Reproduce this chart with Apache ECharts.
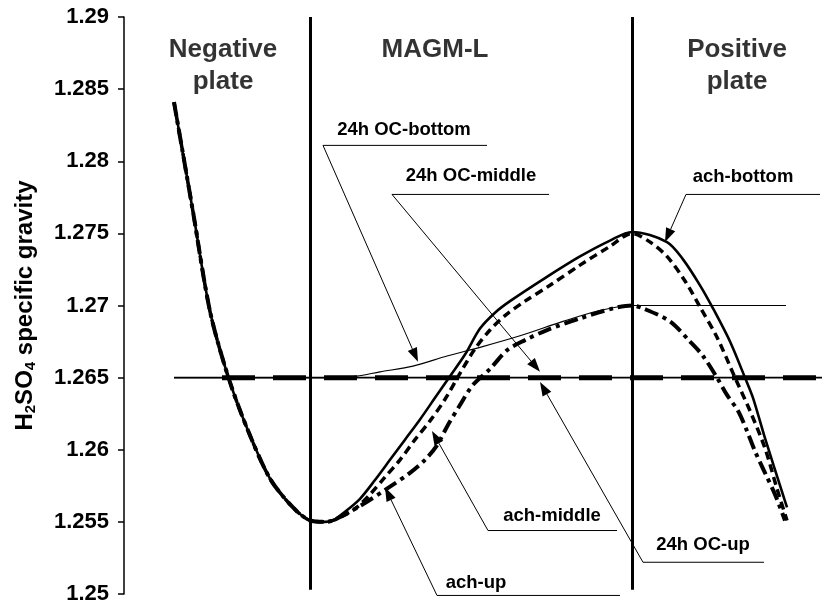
<!DOCTYPE html>
<html>
<head>
<meta charset="utf-8">
<script src="https://cdn.jsdelivr.net/npm/echarts@6/dist/echarts.min.js"></script>
<style>
  html, body { margin: 0; padding: 0; background: #fff; }
  #chart { width: 824px; height: 605px; }
</style>
</head>
<body>
<div id="chart"></div>
<script>
// Position across the cell (arbitrary units) and H2SO4 specific gravity.

// Profile inside the negative plate, shared by the after-charge curves
const plateX = [0, 1.9, 3.6, 5.4, 7.3, 9.6, 11.9, 13.6, 15.1, 15.9];
const plateV = [1.2841, 1.2765, 1.2696, 1.2651, 1.2615, 1.2580, 1.2560, 1.2551, 1.2550, 1.2551];

// ach-bottom
const achBottomX = [17.1, 18.6, 20.1, 21.6, 23.1, 24.6, 26.1, 27.6, 29.1, 30.6, 32.1, 33.6, 37.1, 40.6, 43.6, 45.8,
                    49.3, 50.9, 52.6, 53.9, 55.6, 57.1, 57.9, 59.1, 61.3];
const achBottomV = [1.2557, 1.2566, 1.2579, 1.2593, 1.2607, 1.2621, 1.2636, 1.2651, 1.2666, 1.2684, 1.2695, 1.2703, 1.2719, 1.2734, 1.2745, 1.2751,
                    1.2744, 1.2732, 1.2714, 1.2698, 1.2675, 1.2650, 1.2636, 1.2608, 1.2560];

// ach-middle
const achMiddleX = [16.6, 18.1, 19.6, 21.1, 22.6, 24.1, 25.6, 27.1, 28.6, 30.1, 31.6, 33.1, 35.1, 37.6, 40.6, 43.6, 45.8,
                    47.6, 49.3, 51.1, 52.6, 54.3, 56.1, 57.6, 59.1, 60.3, 61.3];
const achMiddleV = [1.2553, 1.2559, 1.2569, 1.2581, 1.2593, 1.2607, 1.2620, 1.2635, 1.2653, 1.2670, 1.2683, 1.2693, 1.2703, 1.2714, 1.2728, 1.2741, 1.2750,
                    1.2744, 1.2734, 1.2717, 1.2699, 1.2678, 1.2650, 1.2627, 1.2601, 1.2573, 1.2551];

// ach-up
const achUpX = [18.6, 21.3, 23.6, 25.1, 26.3, 27.3, 28.6, 29.9, 31.6, 33.3, 35.1, 37.3, 40.6, 43.9, 45.8,
                46.9, 49.6, 51.6, 52.9, 54.3, 55.3, 56.4, 57.3, 58.1, 59.1, 60.1, 61.1];
const achUpV = [1.2561, 1.2573, 1.2584, 1.2593, 1.2603, 1.2616, 1.2631, 1.2645, 1.2656, 1.2669, 1.2676, 1.2683, 1.2691, 1.2698, 1.2700,
                1.2698, 1.2689, 1.2675, 1.2665, 1.2650, 1.2638, 1.2627, 1.2613, 1.2599, 1.2584, 1.2569, 1.2551];

// 24h open circuit
const ocBottomX = [0, 16.6, 18.3, 20.6, 23.9, 27.3, 30.6, 34.6, 38.9, 42.3, 45.8, 61.2];
const ocBottomV = [1.265, 1.265, 1.2651, 1.2654, 1.2658, 1.2665, 1.2671, 1.2679, 1.2689, 1.2696, 1.2700, 1.2700];
const ocMiddleX = [0, 64.8];
const ocMiddleV = [1.265, 1.265];
const ocUpX = [4.8, 64.2];
const ocUpV = [1.265, 1.265];

// Boundaries of the separator (MAGM-L)
const boundaryX = [13.6, 45.8];

const yTickLabels = ['1.25', '1.255', '1.26', '1.265', '1.27', '1.275', '1.28', '1.285', '1.29'];

// Zone titles
const zoneTitles = [
  { text: 'Negative\nplate', x: 4.9, y: 1.2866 },
  { text: 'MAGM-L', x: 26.1, y: 1.2877 },
  { text: 'Positive\nplate', x: 56.3, y: 1.2866 }
];

// Callouts: label centre, underline ends, arrow tip
const callouts = [
  { text: '24h OC-bottom', at: [23.0, 1.2822], line: [[14.9, 1.2811], [31.3, 1.2811]], tip: [24.4, 1.2661] },
  { text: '24h OC-middle', at: [29.7, 1.2790], line: [[21.8, 1.2777], [37.5, 1.2777]], tip: [36.6, 1.2654] },
  { text: 'ach-bottom', at: [56.9, 1.2789], line: [[51.2, 1.2777], [64.6, 1.2777]], tip: [49.1, 1.2744] },
  { text: 'ach-middle', at: [37.8, 1.2554], line: [[31.4, 1.2544], [44.3, 1.2544]], tip: [25.8, 1.2613] },
  { text: '24h OC-up', at: [52.9, 1.2534], line: [[46.9, 1.2522], [59.0, 1.2522]], tip: [36.6, 1.2647] },
  { text: 'ach-up', at: [30.2, 1.2508], line: [[26.3, 1.2499], [44.6, 1.2499]], tip: [21.1, 1.2574] }
];

const FONT = '"Liberation Sans", Arial, sans-serif';

function zip(xs, ys) { return xs.map((x, i) => [x, ys[i]]); }
function curve(tailX, tailV) { return zip(plateX.concat(tailX), plateV.concat(tailV)); }

const chart = echarts.init(document.getElementById('chart'), null, { renderer: 'canvas' });

const lineBase = { type: 'line', showSymbol: false, symbol: 'none', silent: true, animation: false, clip: false };

// Leader line with a filled arrowhead, an underline and the label text
function renderCallout(params, api) {
  const c = callouts[params.dataIndex];
  const a = api.coord(c.line[0]);
  const b = api.coord(c.line[1]);
  const t = api.coord(c.tip);
  const m = api.coord(c.at);
  const dx = t[0] - a[0], dy = t[1] - a[1];
  const len = Math.sqrt(dx * dx + dy * dy);
  const ux = dx / len, uy = dy / len;
  const L = 14, W = 5;
  const bx = t[0] - ux * L, by = t[1] - uy * L;
  return {
    type: 'group',
    children: [
      { type: 'line', shape: { x1: a[0], y1: a[1], x2: b[0], y2: b[1] }, style: { stroke: '#000', lineWidth: 1 } },
      { type: 'line', shape: { x1: a[0], y1: a[1], x2: bx, y2: by }, style: { stroke: '#000', lineWidth: 1 } },
      { type: 'polygon', shape: { points: [[t[0], t[1]], [bx - uy * W, by + ux * W], [bx + uy * W, by - ux * W]] }, style: { fill: '#000' } },
      { type: 'text', x: m[0], y: m[1], style: {
          text: c.text, fill: '#000', fontFamily: FONT, fontWeight: 'bold', fontSize: 18.5,
          align: 'center', verticalAlign: 'middle', textAlign: 'center', textVerticalAlign: 'middle' } }
    ]
  };
}

const option = {
  backgroundColor: '#ffffff',
  animation: false,
  grid: { left: 124, right: 0, top: 17, bottom: 9, containLabel: false },
  xAxis: { type: 'value', min: -5, max: 65, show: false },
  yAxis: {
    type: 'value', min: 1.25, max: 1.29, interval: 0.005,
    axisLine: { show: true, onZero: false, lineStyle: { color: '#000', width: 1.5 } },
    axisTick: { show: true, length: 6, lineStyle: { color: '#000', width: 1.5 } },
    splitLine: { show: false },
    axisLabel: {
      margin: 15, color: '#000', fontFamily: FONT, fontWeight: 'bold', fontSize: 22,
      formatter: (v, i) => yTickLabels[i]
    },
    name: 'H{s|2}SO{s|4} specific gravity',
    nameLocation: 'middle', nameGap: 86, nameRotate: 90,
    nameTextStyle: {
      color: '#000', fontFamily: FONT, fontWeight: 'bold', fontSize: 24,
      rich: { s: { fontFamily: FONT, fontWeight: 'bold', fontSize: 15, verticalAlign: 'bottom', padding: [11, 0, 0, 0] } }
    }
  },
  series: [
    Object.assign({}, lineBase, {
      name: '24h OC-middle', data: zip(ocMiddleX, ocMiddleV),
      lineStyle: { color: '#000', width: 1.8 }, z: 2
    }),
    Object.assign({}, lineBase, {
      name: '24h OC-up', data: zip(ocUpX, ocUpV),
      lineStyle: { color: '#000', width: 5, type: [33, 18] }, z: 2
    }),
    Object.assign({}, lineBase, {
      name: '24h OC-bottom', data: zip(ocBottomX, ocBottomV), smooth: 0.3,
      lineStyle: { color: '#000', width: 1.2 }, z: 3
    }),
    Object.assign({}, lineBase, {
      name: 'ach-up', data: curve(achUpX, achUpV), smooth: 0.3,
      lineStyle: { color: '#000', width: 4, type: [14, 5, 4, 5] }, z: 4
    }),
    Object.assign({}, lineBase, {
      name: 'ach-middle', data: curve(achMiddleX, achMiddleV), smooth: 0.3,
      lineStyle: { color: '#000', width: 3.5, type: [8, 5] }, z: 4
    }),
    Object.assign({}, lineBase, {
      name: 'ach-bottom', data: curve(achBottomX, achBottomV), smooth: 0.3,
      lineStyle: { color: '#000', width: 2.6 }, z: 5
    }),
    // separator boundaries
    Object.assign({}, lineBase, {
      name: 'boundaries', data: [],
      markLine: {
        silent: true, symbol: ['none', 'none'], label: { show: false },
        lineStyle: { color: '#000', width: 3, type: 'solid' },
        data: boundaryX.map(x => [{ coord: [x, 1.2503] }, { coord: [x, 1.29] }])
      }
    }),
    {
      type: 'custom', name: 'callouts', silent: true, clip: false, z: 6,
      data: callouts.map(c => c.tip),
      renderItem: renderCallout
    },
    {
      type: 'scatter', name: 'zone titles', silent: true, symbolSize: 0,
      data: zoneTitles.map(t => ({ value: [t.x, t.y], name: t.text })),
      label: {
        show: true, position: 'inside', formatter: p => p.name, color: '#000',
        fontFamily: FONT, fontWeight: 'bold', fontSize: 26, lineHeight: 32, align: 'center'
      }
    }
  ]
};

chart.setOption(option);
</script>
</body>
</html>
